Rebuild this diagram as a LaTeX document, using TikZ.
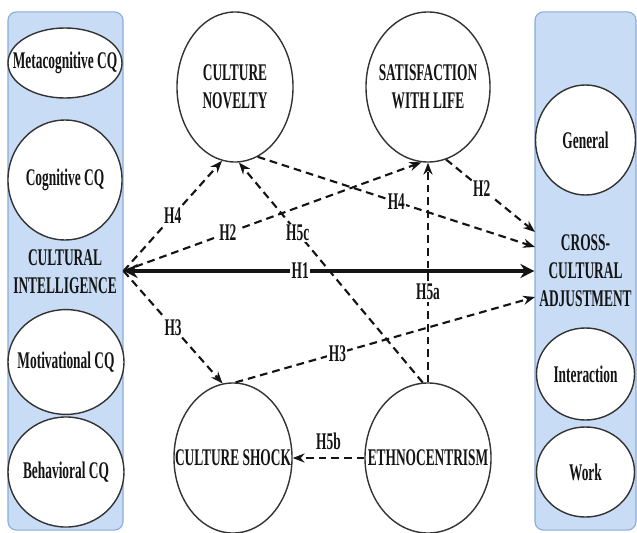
\documentclass[tikz,border=0pt]{standalone}
\usepackage{fontspec}
\newfontfamily\figserif{Liberation Serif}[FakeStretch=0.56]
\usepackage{tikz}
\usetikzlibrary{arrows.meta,shapes.geometric}
\definecolor{CQPanel}{HTML}{C8DCF5}
\definecolor{CQEdge}{HTML}{8AACDA}
\definecolor{CQInk}{HTML}{141414}
\definecolor{CQRing}{HTML}{333333}
\tikzset{
  figtext/.style={font={\figserif\bfseries\fontsize{17}{20}\selectfont}, text=CQInk},
  cqpanel/.style={draw=CQEdge, fill=CQPanel, line width=0.8pt, rounded corners=6pt, inner sep=0pt},
  construct/.style={ellipse, draw=CQRing, fill=white, line width=1pt, inner sep=0pt},
  hypo/.style={-{Stealth[length=8.5pt,width=6.5pt]}, line width=1.5pt, dash pattern=on 5.5pt off 3.5pt, draw=CQInk},
  direct/.style={{Stealth[length=10pt,width=10pt]}-{Stealth[length=10pt,width=10pt]}, line width=2.8pt, draw=CQInk},
  hlabel/.style={fill=white, inner sep=1pt}
}

\begin{document}
\begin{tikzpicture}[x=0.025cm, y=-0.025cm, every node/.style={figtext,align=center}]
\useasboundingbox (0,0) rectangle (637,532);
\node[cqpanel, minimum width=2.875cm, minimum height=12.95cm] (left) at (65.5,271) {};
\node[cqpanel, minimum width=2.525cm, minimum height=12.95cm] (right) at (585.5,271) {};
\node[construct, minimum width=2.85cm, minimum height=1.75cm, label=center:{Metacognitive CQ}] (meta) at (65,63) {};
\node[construct, minimum width=2.85cm, minimum height=3.0cm, label=center:{Cognitive CQ}] (cog) at (65,180) {};
\node (ci) at (65,272) {CULTURAL\\INTELLIGENCE};
\node[construct, minimum width=2.9cm, minimum height=2.62cm, label=center:{Motivational CQ}] (mot) at (66,362) {};
\node[construct, minimum width=2.9cm, minimum height=2.75cm, label=center:{Behavioral CQ}] (beh) at (66,472) {};
\node[construct, minimum width=2.5cm, minimum height=2.75cm, label=center:{General}] (gen) at (585.5,140) {};
\node (cca) at (585.5,271) {CROSS-\\CULTURAL\\ADJUSTMENT};
\node[construct, minimum width=2.45cm, minimum height=2.3cm, label=center:{Interaction}] (inter) at (585.5,374) {};
\node[construct, minimum width=2.45cm, minimum height=2.25cm, label=center:{Work}] (work) at (585.5,472) {};
\node[construct, minimum width=2.9cm, minimum height=3.75cm, label=center:{CULTURE\\NOVELTY}] (novelty) at (235,87) {};
\node[construct, minimum width=3.1cm, minimum height=3.75cm, label=center:{SATISFACTION\\WITH LIFE}] (satis) at (428,87) {};
\node[construct, minimum width=2.95cm, minimum height=3.75cm, label=center:{CULTURE SHOCK}] (shock) at (233,458) {};
\node[construct, minimum width=3.15cm, minimum height=3.75cm, label=center:{ETHNOCENTRISM}] (ethno) at (428,458) {};
\coordinate (toH2) at (535,232);
\coordinate (toH4) at (535,247);
\coordinate (toH3) at (535,297);
\draw[direct] (left.east) -- node[hlabel, pos=.43] {H1} (right.west);
\draw[hypo] (left.east) -- node[hlabel, pos=.5] {H4} (novelty.260);
\draw[hypo] (left.east) -- node[hlabel, pos=.35] {H2} (satis.265);
\draw[hypo] (left.east) -- node[hlabel, pos=.5] {H3} (shock.98);
\draw[hypo] (novelty.288) -- node[hlabel, pos=.5] {H4} (toH4);
\draw[hypo] (satis.284) -- node[hlabel, pos=.4] {H2} (toH2);
\draw[hypo] (shock.88) -- node[hlabel, pos=.34] {H3} (toH3);
\draw[hypo] (ethno.94) -- node[hlabel, pos=.68] {H5c} (novelty.273);
\draw[hypo] (ethno.north) -- node[hlabel, pos=.41] {H5a} (satis.south);
\draw[hypo] (ethno.west) -- node[above=2pt] {H5b} (shock.east);
\end{tikzpicture}
\end{document}
